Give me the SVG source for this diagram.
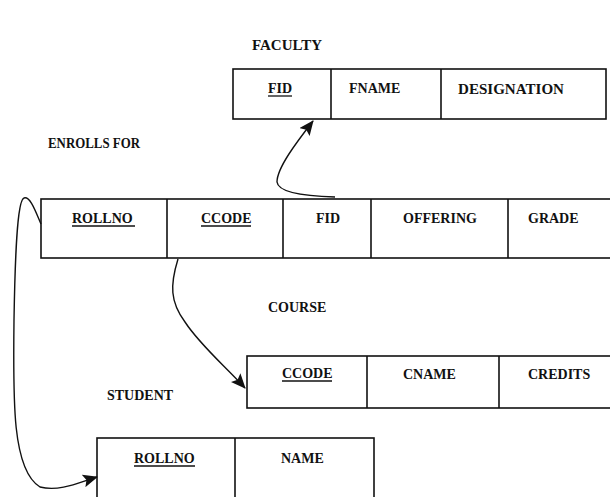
<svg xmlns="http://www.w3.org/2000/svg" width="610" height="497" viewBox="0 0 610 497">
<style>
.t{font-family:"Liberation Serif","Times New Roman",serif;font-size:14px;font-weight:bold;fill:#111}
.box{fill:none;stroke:#111;stroke-width:1.6}
.div{stroke:#111;stroke-width:1.6}
.u{stroke:#111;stroke-width:1.3}
.c{fill:none;stroke:#111;stroke-width:1.4}
</style>
<defs>
<marker id="ah" markerUnits="userSpaceOnUse" markerWidth="15" markerHeight="13" refX="14" refY="6.5" orient="auto">
<path d="M0,0 L15,6.5 L0,13 L3,6.5 Z" fill="#111"/>
</marker>
</defs>
<rect width="610" height="497" fill="#fff"/>
<g id="labels">
<text class="t" x="252" y="50" textLength="70" lengthAdjust="spacingAndGlyphs">FACULTY</text>
<text class="t" x="48" y="148" textLength="92" lengthAdjust="spacingAndGlyphs">ENROLLS FOR</text>
<text class="t" x="268" y="312">COURSE</text>
<text class="t" x="107" y="400">STUDENT</text>
</g>
<g id="faculty">
<rect class="box" x="233" y="69" width="373" height="50"/>
<line class="div" x1="331" y1="69" x2="331" y2="119"/>
<line class="div" x1="441" y1="69" x2="441" y2="119"/>
<text class="t" x="268" y="93">FID</text>
<line class="u" x1="268" y1="96" x2="292" y2="96"/>
<text class="t" x="349" y="93">FNAME</text>
<text class="t" x="458" y="94" textLength="106" lengthAdjust="spacingAndGlyphs">DESIGNATION</text>
</g>
<g id="enrolls">
<rect class="box" x="41" y="199" width="570" height="59"/>
<line class="div" x1="167" y1="199" x2="167" y2="258"/>
<line class="div" x1="283" y1="199" x2="283" y2="258"/>
<line class="div" x1="371" y1="199" x2="371" y2="258"/>
<line class="div" x1="508" y1="199" x2="508" y2="258"/>
<text class="t" x="72" y="223">ROLLNO</text>
<line class="u" x1="72" y1="226" x2="135" y2="226"/>
<text class="t" x="201" y="223">CCODE</text>
<line class="u" x1="201" y1="226" x2="251" y2="226"/>
<text class="t" x="316" y="223">FID</text>
<text class="t" x="403" y="223">OFFERING</text>
<text class="t" x="528" y="223">GRADE</text>
</g>
<g id="course">
<rect class="box" x="247" y="356" width="364" height="52"/>
<line class="div" x1="367" y1="356" x2="367" y2="408"/>
<line class="div" x1="499" y1="356" x2="499" y2="408"/>
<text class="t" x="282" y="378">CCODE</text>
<line class="u" x1="282" y1="381" x2="332" y2="381"/>
<text class="t" x="403" y="379">CNAME</text>
<text class="t" x="528" y="379">CREDITS</text>
</g>
<g id="student">
<rect class="box" x="97" y="438" width="277" height="80"/>
<line class="div" x1="235" y1="438" x2="235" y2="518"/>
<text class="t" x="134" y="463">ROLLNO</text>
<line class="u" x1="134" y1="466" x2="195" y2="466"/>
<text class="t" x="281" y="463">NAME</text>
</g>
<g id="connectors">
<path class="c" d="M335,197 C300,196 278,192 277,182 C277,168 296,143 313,121" marker-end="url(#ah)"/>
<path class="c" d="M178,259 C170,285 170,302 185,322 C200,345 225,366 245,388" marker-end="url(#ah)"/>
<path class="c" d="M41,224 C35,210 30,196 24,198 C17,200 15,260 14,320 C13,400 12,470 40,487 C60,492 80,482 97,477" marker-end="url(#ah)"/>
</g>
</svg>
